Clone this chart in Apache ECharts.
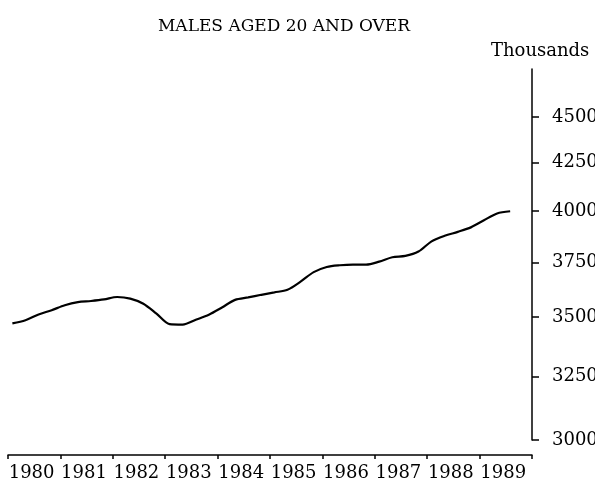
<!DOCTYPE html>
<html>
<head>
<meta charset="utf-8">
<script src="https://cdn.jsdelivr.net/npm/echarts@6/dist/echarts.min.js"></script>
<style>
  html, body { margin: 0; padding: 0; background: #fff; }
  #chart { width: 595px; height: 481px; }
</style>
</head>
<body>
<div id="chart"></div>
<script>
// quarterly, 1980 Q1 .. 1989 Q3 (thousands)
const startYear = 1980;
const years = ['1980', '1981', '1982', '1983', '1984', '1985', '1986', '1987', '1988', '1989'];
const yTicks = [3000, 3250, 3500, 3750, 4000, 4250, 4500];
const males = [
  3473, 3487, 3512, 3531, 3553, 3567, 3572, 3579,
  3590, 3583, 3560, 3516, 3470, 3468, 3489, 3511,
  3543, 3577, 3588, 3600, 3611, 3623, 3660, 3704,
  3728, 3736, 3739, 3739, 3753, 3774, 3780, 3801,
  3850, 3877, 3896, 3918, 3953, 3987, 3998
];

const font = 'DejaVu Serif';
const ink = '#000';

// quarter i sits a month into the quarter
const seriesData = males.map((v, i) => [startYear + i / 4 + 1 / 12, v]);
const yearTicks = years.map(y => +y).concat([startYear + years.length]);
const yearMids = years.map(y => +y + 0.45);

let myChart = echarts.init(document.getElementById('chart'), null, { renderer: 'canvas' });
myChart.setOption({
  backgroundColor: '#fff',
  animation: false,
  title: [
    {
      text: 'MALES AGED 20 AND OVER',
      left: 279, top: 13, textAlign: 'center',
      textStyle: { fontFamily: font, fontSize: 17, fontWeight: 'normal', color: ink }
    },
    {
      text: 'Thousands',
      left: 486, top: 37,
      textStyle: { fontFamily: font, fontSize: 18, fontWeight: 'normal', color: ink }
    }
  ],
  grid: { left: 8, right: 63, top: 69, bottom: 41, outerBoundsMode: 'none', containLabel: false },
  xAxis: {
    type: 'value',
    min: startYear,
    max: startYear + years.length,
    offset: 15,
    splitLine: { show: false },
    axisLine: { show: true, lineStyle: { color: ink, width: 1.5 } },
    axisTick: { show: true, length: 4, customValues: yearTicks, lineStyle: { color: ink, width: 1.5 } },
    axisLabel: {
      customValues: yearMids,
      formatter: v => String(Math.floor(v)),
      margin: 9,
      fontFamily: font, fontSize: 18, color: ink
    }
  },
  yAxis: {
    type: 'log',
    logBase: 10,
    min: 3000,
    max: 4780,
    position: 'right',
    splitLine: { show: false },
    axisLine: { show: true, lineStyle: { color: ink, width: 1.5 } },
    axisTick: { show: true, length: 7, customValues: yTicks, lineStyle: { color: ink, width: 1.5 } },
    axisLabel: {
      customValues: yTicks,
      formatter: v => String(Math.round(v)),
      margin: 20,
      fontFamily: font, fontSize: 18, color: ink
    }
  },
  series: [
    {
      type: 'line',
      data: seriesData,
      smooth: 0.3,
      symbol: 'none',
      lineStyle: { color: ink, width: 2.2 }
    }
  ]
});
</script>
</body>
</html>
